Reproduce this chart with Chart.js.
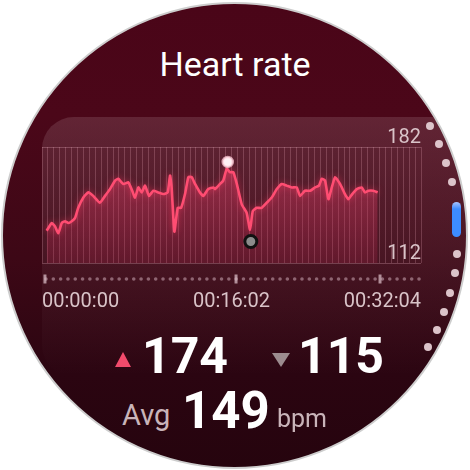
<!DOCTYPE html>
<html>
<head>
<meta charset="utf-8">
<script src="https://cdn.jsdelivr.net/npm/chart.js@4.4.0/dist/chart.umd.min.js"></script>
<style>
    html, body {
        margin: 0;
        padding: 0;
        width: 470px;
        height: 470px;
        overflow: hidden;
        background: #fff;
        font-family: Roboto, sans-serif;
    }
    .face {
        position: absolute;
        left: 1px;
        top: 2px;
        width: 467px;
        height: 467px;
        box-sizing: border-box;
        border-radius: 50%;
        border: 2px solid #cdcdcd;
        overflow: hidden;
        background: linear-gradient(#4a0518 0%, #4b0719 24%, #3d0816 55%, #2b0511 80%, #26040e 100%);
    }
    .card {
        position: absolute;
        left: 39px;
        top: 113px;
        width: 470px;
        height: 260px;
        border-radius: 32px;
        background: linear-gradient(rgba(255, 235, 240, 0.13), rgba(255, 235, 240, 0.07) 45%, rgba(255, 235, 240, 0) 100%);
    }
    .txt {
        position: absolute;
        white-space: nowrap;
        line-height: 1;
    }
    #hr-chart {
        position: absolute;
        left: 15px;
        top: 125px;
    }
    .tri-up {
        position: absolute;
        left: 115px;
        top: 352px;
        width: 0;
        height: 0;
        border-left: 8.5px solid transparent;
        border-right: 8.5px solid transparent;
        border-bottom: 15px solid #f24b6c;
    }
    .tri-down {
        position: absolute;
        left: 272px;
        top: 353px;
        width: 0;
        height: 0;
        border-left: 9px solid transparent;
        border-right: 9px solid transparent;
        border-top: 14px solid #9c8c8f;
    }
    .dot {
        position: absolute;
        width: 8px;
        height: 8px;
        border-radius: 50%;
        background: #dcc4ca;
    }
    .pill {
        position: absolute;
        left: 452px;
        top: 202px;
        width: 9px;
        height: 35px;
        border-radius: 5px;
        background: linear-gradient(#a8c4ff 0%, #3d8cff 20%, #3d8cff 100%);
    }
</style>
</head>
<body>
<div class="face">
    <div class="card"></div>
</div>
<div class="txt" style="left:0;width:470px;top:47px;text-align:center;font-size:34px;color:#fff;">Heart rate</div>
<canvas id="hr-chart" width="433" height="224"></canvas>
<div class="tri-up"></div>
<div class="txt" style="left:142px;top:331px;font-size:50px;font-weight:bold;color:#fff;">174</div>
<div class="tri-down"></div>
<div class="txt" style="left:298px;top:331px;font-size:50px;font-weight:bold;color:#fff;">115</div>
<div class="txt" style="left:122px;top:401px;font-size:29px;color:#c9b4b9;">Avg</div>
<div class="txt" style="left:182px;top:385px;font-size:51px;font-weight:bold;color:#fff;">149</div>
<div class="txt" style="left:277px;top:406px;font-size:25px;color:#c9b4b9;">bpm</div>
<div id="scroll"></div>
<div class="pill"></div>

<script>
// heart rate samples, seconds from start and bpm
const hrTimes = [24, 49, 66, 83, 100, 117, 134, 151, 168, 184, 210, 235, 260, 294, 320, 345, 371, 387, 413, 438,
    447, 458, 472, 489, 506, 523, 543, 565, 590, 616, 638, 650, 658, 672, 689, 706, 726, 743, 760, 777,
    802, 819, 844, 870, 878, 904, 920, 938, 954, 971, 989, 1014, 1039, 1056, 1070, 1090, 1115, 1141, 1166, 1192,
    1217, 1242, 1268, 1293, 1310, 1335, 1361, 1386, 1406, 1420, 1437, 1454, 1471, 1488, 1513, 1538, 1555, 1575, 1598, 1623,
    1640, 1657, 1682, 1704];
const hrValues = [131.5, 136.1, 134.1, 130, 136.1, 137.2, 136.1, 137.2, 139.2, 145.3, 151.5, 154.6, 152.5, 148.4, 152.5, 156.6, 161.7, 162.8, 159.7, 160.7,
    158.7, 155.6, 151.5, 157.6, 154.6, 158.7, 152.5, 155.6, 154.6, 153.6, 154.6, 164.8, 157.6, 131, 145.3, 145.3, 153.6, 163.8, 163.8, 159.7,
    154.6, 152.5, 156.6, 157.6, 156.6, 159.7, 161.7, 168.9, 166.8, 166.8, 159.7, 147.4, 142.3, 132.1, 143.3, 145.3, 145.3, 148.4, 151.5, 156.6,
    159.7, 158.7, 157.6, 157.6, 152.5, 155.6, 155.6, 157.6, 158.7, 162.8, 161.7, 150.5, 157.6, 163.8, 159.7, 153.6, 150.5, 153.6, 156.6, 157.6,
    154.6, 155.6, 155.6, 154.6];

// max / min markers
const markerTimes = [943, 1060];
const markerValues = [173, 125];

// axis
const timeMax = 1924;
const timeLabels = ['00:00:00', '00:16:02', '00:32:04'];
const bpmTicks = [112, 182];
const segmentMarks = [15, 985, 1716];

const gridCount = 64;

// scroll indicator dots on the bezel
const scroll = document.getElementById('scroll');
const dotAngles = [-29.2, -24, -18.9, -13.8, 4.9, 9.8, 15.1, 20.1, 25.2, 30.1];
dotAngles.forEach((a) => {
    const d = document.createElement('div');
    const r = a * Math.PI / 180;
    d.className = 'dot';
    d.style.left = (235 + 223 * Math.cos(r) - 4) + 'px';
    d.style.top = (235 + 223 * Math.sin(r) - 4) + 'px';
    scroll.append(d);
});

// soft glow under the heart rate line only
const glowPlugin = {
    id: 'glow',
    beforeDatasetDraw(chart, args) {
        if (args.index !== 0) return;
        chart.ctx.save();
        chart.ctx.shadowColor = 'rgba(255, 60, 100, 0.6)';
        chart.ctx.shadowBlur = 6;
    },
    afterDatasetDraw(chart, args) {
        if (args.index !== 0) return;
        chart.ctx.restore();
    }
};

const dotRowPlugin = {
    id: 'dotRow',
    afterDraw(chart) {
        const ctx = chart.ctx;
        const area = chart.chartArea;
        const xScale = chart.scales.x;
        const y = area.bottom + 16;
        ctx.save();
        ctx.fillStyle = 'rgba(205, 170, 182, 0.55)';
        const step = (area.right - area.left - 6) / 51;
        for (let i = 0; i <= 51; i++) {
            const x = area.left + 4 + i * step;
            ctx.beginPath();
            ctx.arc(x, y, 1.8, 0, Math.PI * 2);
            ctx.fill();
        }
        ctx.fillStyle = 'rgba(215, 185, 195, 0.75)';
        segmentMarks.forEach((t) => {
            const x = xScale.getPixelForValue(t);
            ctx.fillRect(x - 1.5, y - 4.5, 3, 9);
        });
        ctx.restore();
    }
};

const ctx = document.getElementById('hr-chart').getContext('2d');
const chart = new Chart(ctx, { //eslint-disable-line
    type: 'line',
    data: {
        datasets: [{
            data: hrTimes.map((t, i) => ({ x: t, y: hrValues[i] })),
            borderColor: '#ff4d72',
            borderWidth: 2.6,
            pointRadius: 0,
            tension: 0.15,
            fill: 'start',
            order: 1,
            backgroundColor: (context) => {
                const area = context.chart.chartArea;
                if (!area) return 'rgba(220, 60, 100, 0.3)';
                const g = context.chart.ctx.createLinearGradient(0, area.top, 0, area.bottom);
                g.addColorStop(0, 'rgba(235, 70, 110, 0.52)');
                g.addColorStop(1, 'rgba(190, 40, 80, 0.22)');
                return g;
            }
        }, {
            type: 'scatter',
            data: markerTimes.map((t, i) => ({ x: t, y: markerValues[i] })),
            pointRadius: [5, 6],
            pointBackgroundColor: ['#fff2f5', '#8c8c8c'],
            pointBorderColor: ['rgba(255, 205, 218, 0.75)', '#111'],
            pointBorderWidth: [2.5, 3],
            order: 0
        }]
    },
    options: {
        responsive: false,
        animation: false,
        layout: {
            padding: { left: 0, right: 0, top: 22, bottom: 8 }
        },
        plugins: {
            legend: { display: false },
            tooltip: { enabled: false }
        },
        scales: {
            x: {
                type: 'linear',
                min: 0,
                max: timeMax,
                afterBuildTicks: (scale) => {
                    const ticks = [];
                    for (let i = 0; i <= gridCount; i++) {
                        ticks.push({ value: timeMax * i / gridCount });
                    }
                    scale.ticks = ticks;
                },
                grid: {
                    color: 'rgba(255, 185, 205, 0.22)',
                    drawTicks: false
                },
                border: { display: false },
                ticks: {
                    autoSkip: false,
                    maxRotation: 0,
                    minRotation: 0,
                    align: 'inner',
                    padding: 27,
                    color: '#d9c3c8',
                    font: { family: 'Roboto', size: 20 },
                    callback: (value, index) => {
                        if (index % (gridCount / 2) !== 0) return '';
                        return timeLabels[index / (gridCount / 2)];
                    }
                }
            },
            y: {
                position: 'right',
                min: bpmTicks[0],
                max: bpmTicks[1],
                afterBuildTicks: (scale) => {
                    scale.ticks = bpmTicks.map((v) => ({ value: v }));
                },
                grid: {
                    color: 'rgba(255, 200, 215, 0.25)',
                    drawTicks: false
                },
                border: { display: false },
                ticks: {
                    mirror: true,
                    padding: 0,
                    labelOffset: -9,
                    color: '#d9c3c8',
                    font: { family: 'Roboto', size: 20 }
                }
            }
        }
    },
    plugins: [glowPlugin, dotRowPlugin]
});
</script>
</body>
</html>
